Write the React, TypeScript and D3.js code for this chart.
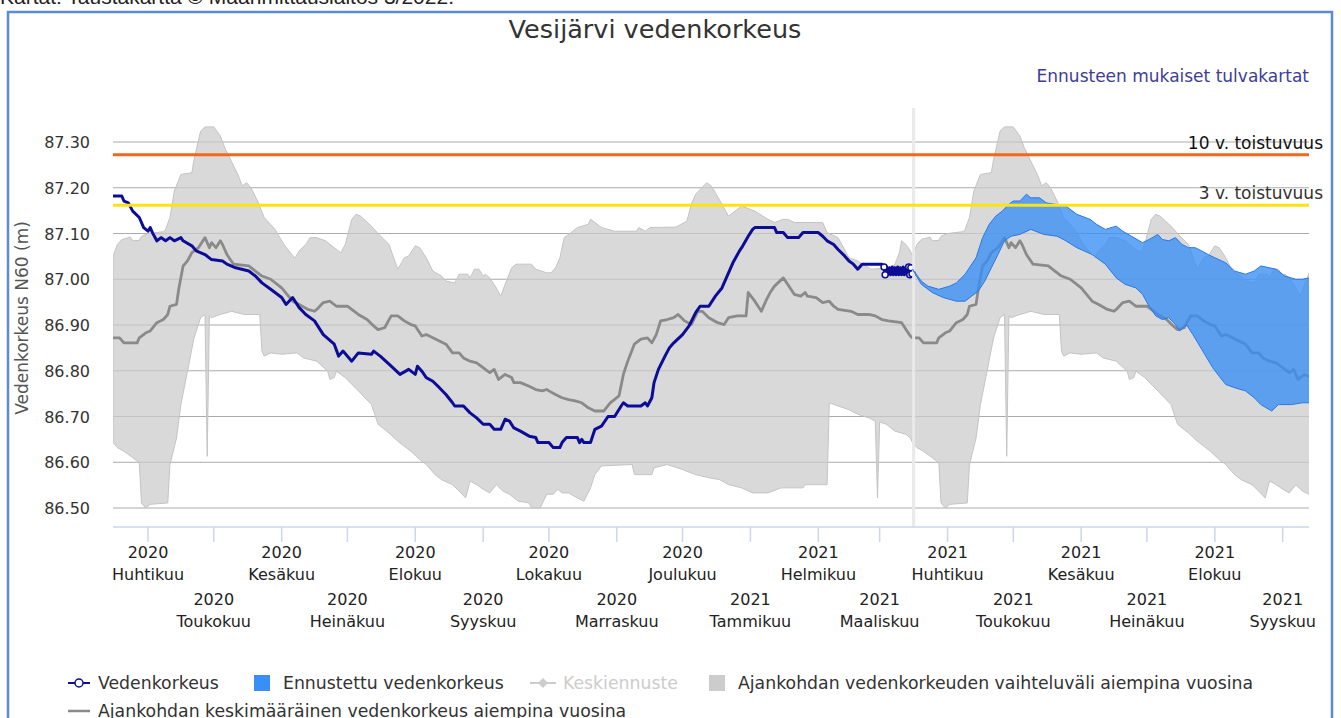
import * as d3 from "d3";

type Pt = [string, number];

// historical range (min / max) per day, one year from 16.3.
const bandUpper: Pt[] = [
  ["2020-03-16", 87.051], ["2020-03-18", 87.076], ["2020-03-20", 87.087], ["2020-03-24", 87.092], ["2020-03-25", 87.084],
  ["2020-03-28", 87.085], ["2020-03-29", 87.094], ["2020-04-01", 87.1], ["2020-04-08", 87.104], ["2020-04-09", 87.109],
  ["2020-04-11", 87.135], ["2020-04-13", 87.193], ["2020-04-16", 87.229], ["2020-04-21", 87.233], ["2020-04-22", 87.262],
  ["2020-04-25", 87.324], ["2020-04-27", 87.333], ["2020-05-01", 87.333], ["2020-05-04", 87.313], ["2020-05-06", 87.288],
  ["2020-05-09", 87.258], ["2020-05-12", 87.229], ["2020-05-14", 87.204], ["2020-05-16", 87.211], ["2020-05-18", 87.2],
  ["2020-05-21", 87.171], ["2020-05-24", 87.135], ["2020-05-29", 87.109], ["2020-06-02", 87.076], ["2020-06-07", 87.046],
  ["2020-06-09", 87.062], ["2020-06-12", 87.076], ["2020-06-14", 87.091], ["2020-06-17", 87.091], ["2020-06-21", 87.084],
  ["2020-06-25", 87.069], ["2020-06-28", 87.058], ["2020-06-30", 87.076], ["2020-07-03", 87.131], ["2020-07-05", 87.142],
  ["2020-07-07", 87.138], ["2020-07-12", 87.116], ["2020-07-15", 87.1], ["2020-07-20", 87.076], ["2020-07-24", 87.022],
  ["2020-07-27", 87.047], ["2020-07-29", 87.051], ["2020-08-01", 87.073], ["2020-08-03", 87.069], ["2020-08-06", 87.047],
  ["2020-08-09", 87.018], ["2020-08-13", 87.007], ["2020-08-15", 86.996], ["2020-08-19", 86.992], ["2020-08-21", 87.011],
  ["2020-08-25", 87.011], ["2020-08-26", 87.003], ["2020-08-28", 87.022], ["2020-08-30", 87.022], ["2020-09-01", 87.007],
  ["2020-09-02", 87.011], ["2020-09-04", 87.003], ["2020-09-07", 86.981], ["2020-09-09", 86.963], ["2020-09-11", 86.989],
  ["2020-09-14", 87.025], ["2020-09-16", 87.033], ["2020-09-23", 87.033], ["2020-09-25", 87.022], ["2020-09-30", 87.014],
  ["2020-10-02", 87.014], ["2020-10-04", 87.025], ["2020-10-06", 87.047], ["2020-10-08", 87.091], ["2020-10-10", 87.098],
  ["2020-10-14", 87.113], ["2020-10-19", 87.12], ["2020-10-20", 87.131], ["2020-10-22", 87.124], ["2020-10-25", 87.113],
  ["2020-10-31", 87.105], ["2020-11-10", 87.105], ["2020-11-11", 87.113], ["2020-11-14", 87.105], ["2020-11-16", 87.113],
  ["2020-11-28", 87.114], ["2020-12-03", 87.127], ["2020-12-05", 87.164], ["2020-12-07", 87.186], ["2020-12-12", 87.211],
  ["2020-12-14", 87.204], ["2020-12-16", 87.189], ["2020-12-19", 87.164], ["2020-12-22", 87.138], ["2020-12-25", 87.149],
  ["2020-12-28", 87.16], ["2021-01-03", 87.149], ["2021-01-09", 87.131], ["2021-01-12", 87.124], ["2021-01-16", 87.131],
  ["2021-01-18", 87.131], ["2021-01-21", 87.124], ["2021-02-03", 87.124], ["2021-02-05", 87.102], ["2021-02-10", 87.091],
  ["2021-02-15", 87.047], ["2021-02-19", 87.04], ["2021-02-25", 87.022], ["2021-03-06", 87.025], ["2021-03-08", 87.033],
  ["2021-03-10", 87.058], ["2021-03-11", 87.084], ["2021-03-13", 87.076], ["2021-03-15", 87.062],
];

const bandLower: Pt[] = [
  ["2020-03-16", 86.643], ["2020-03-18", 86.632], ["2020-03-21", 86.624], ["2020-03-25", 86.61], ["2020-03-28", 86.599],
  ["2020-03-29", 86.511], ["2020-03-31", 86.5], ["2020-04-02", 86.508], ["2020-04-10", 86.511], ["2020-04-11", 86.595],
  ["2020-04-14", 86.653], ["2020-04-16", 86.726], ["2020-04-19", 86.799], ["2020-04-22", 86.872], ["2020-04-25", 86.916],
  ["2020-04-27", 86.923], ["2020-04-28", 86.613], ["2020-04-29", 86.92], ["2020-04-30", 86.916], ["2020-05-04", 86.923],
  ["2020-05-07", 86.927], ["2020-05-09", 86.93], ["2020-05-15", 86.923], ["2020-05-22", 86.923], ["2020-05-23", 86.843],
  ["2020-05-24", 86.832], ["2020-05-27", 86.839], ["2020-06-01", 86.836], ["2020-06-08", 86.839], ["2020-06-11", 86.828],
  ["2020-06-17", 86.821], ["2020-06-22", 86.799], ["2020-06-23", 86.781], ["2020-06-25", 86.785], ["2020-06-26", 86.799],
  ["2020-06-30", 86.785], ["2020-07-06", 86.756], ["2020-07-12", 86.726], ["2020-07-15", 86.683], ["2020-07-20", 86.664],
  ["2020-07-24", 86.646], ["2020-07-30", 86.624], ["2020-08-03", 86.606], ["2020-08-06", 86.595], ["2020-08-10", 86.573],
  ["2020-08-13", 86.562], ["2020-08-18", 86.551], ["2020-08-21", 86.537], ["2020-08-24", 86.522], ["2020-08-26", 86.559],
  ["2020-08-29", 86.551], ["2020-09-01", 86.541], ["2020-09-04", 86.533], ["2020-09-07", 86.551], ["2020-09-10", 86.537],
  ["2020-09-13", 86.53], ["2020-09-17", 86.515], ["2020-09-22", 86.511], ["2020-09-23", 86.5], ["2020-09-27", 86.5],
  ["2020-09-30", 86.53], ["2020-10-03", 86.53], ["2020-10-05", 86.541], ["2020-10-07", 86.533], ["2020-10-10", 86.533],
  ["2020-10-14", 86.522], ["2020-10-17", 86.515], ["2020-10-20", 86.544], ["2020-10-22", 86.573], ["2020-10-25", 86.592],
  ["2020-11-08", 86.595], ["2020-11-09", 86.573], ["2020-11-17", 86.573], ["2020-11-18", 86.588], ["2020-11-24", 86.595],
  ["2020-12-01", 86.584], ["2020-12-07", 86.573], ["2020-12-13", 86.566], ["2020-12-18", 86.562], ["2020-12-22", 86.551],
  ["2020-12-28", 86.544], ["2021-01-02", 86.533], ["2021-01-09", 86.533], ["2021-01-15", 86.544], ["2021-01-25", 86.544],
  ["2021-01-26", 86.551], ["2021-02-05", 86.551], ["2021-02-06", 86.73], ["2021-02-10", 86.723], ["2021-02-15", 86.715],
  ["2021-02-19", 86.705], ["2021-02-24", 86.697], ["2021-02-27", 86.69], ["2021-02-28", 86.522], ["2021-03-01", 86.688],
  ["2021-03-04", 86.683], ["2021-03-08", 86.668], ["2021-03-13", 86.661], ["2021-03-15", 86.653],
];

// mean of earlier years
const meanLevel: Pt[] = [
  ["2020-03-16", 86.872], ["2020-03-19", 86.872], ["2020-03-21", 86.861], ["2020-03-27", 86.861], ["2020-03-28", 86.872],
  ["2020-03-31", 86.883], ["2020-04-02", 86.887], ["2020-04-05", 86.905], ["2020-04-08", 86.912], ["2020-04-10", 86.923],
  ["2020-04-11", 86.941], ["2020-04-14", 86.945], ["2020-04-15", 86.978], ["2020-04-17", 87.029], ["2020-04-19", 87.04],
  ["2020-04-21", 87.058], ["2020-04-24", 87.069], ["2020-04-27", 87.091], ["2020-04-29", 87.069], ["2020-04-30", 87.08],
  ["2020-05-02", 87.069], ["2020-05-04", 87.084], ["2020-05-05", 87.076], ["2020-05-07", 87.054], ["2020-05-09", 87.04],
  ["2020-05-10", 87.033], ["2020-05-17", 87.029], ["2020-05-20", 87.018], ["2020-05-23", 87.007], ["2020-05-27", 87.0],
  ["2020-06-01", 86.981], ["2020-06-06", 86.952], ["2020-06-09", 86.945], ["2020-06-13", 86.934], ["2020-06-16", 86.93],
  ["2020-06-17", 86.934], ["2020-06-20", 86.949], ["2020-06-23", 86.952], ["2020-06-26", 86.941], ["2020-07-01", 86.941],
  ["2020-07-06", 86.923], ["2020-07-10", 86.912], ["2020-07-13", 86.898], ["2020-07-15", 86.89], ["2020-07-18", 86.894],
  ["2020-07-21", 86.92], ["2020-07-24", 86.92], ["2020-07-27", 86.909], ["2020-07-30", 86.901], ["2020-08-01", 86.898],
  ["2020-08-04", 86.876], ["2020-08-06", 86.879], ["2020-08-09", 86.872], ["2020-08-12", 86.865], ["2020-08-15", 86.858],
  ["2020-08-18", 86.839], ["2020-08-21", 86.839], ["2020-08-23", 86.828], ["2020-08-26", 86.821], ["2020-08-29", 86.817],
  ["2020-08-31", 86.81], ["2020-09-04", 86.796], ["2020-09-06", 86.803], ["2020-09-08", 86.781], ["2020-09-11", 86.792],
  ["2020-09-14", 86.785], ["2020-09-15", 86.774], ["2020-09-18", 86.774], ["2020-09-22", 86.766], ["2020-09-25", 86.759],
  ["2020-09-28", 86.756], ["2020-09-30", 86.759], ["2020-10-01", 86.756], ["2020-10-04", 86.748], ["2020-10-07", 86.741],
  ["2020-10-10", 86.737], ["2020-10-13", 86.734], ["2020-10-16", 86.73], ["2020-10-19", 86.719], ["2020-10-22", 86.712],
  ["2020-10-26", 86.712], ["2020-10-29", 86.73], ["2020-11-02", 86.745], ["2020-11-04", 86.792], ["2020-11-06", 86.821],
  ["2020-11-09", 86.858], ["2020-11-12", 86.869], ["2020-11-15", 86.872], ["2020-11-17", 86.861], ["2020-11-19", 86.879],
  ["2020-11-21", 86.909], ["2020-11-24", 86.912], ["2020-11-27", 86.916], ["2020-11-29", 86.923], ["2020-12-02", 86.909],
  ["2020-12-05", 86.901], ["2020-12-08", 86.93], ["2020-12-10", 86.93], ["2020-12-13", 86.916], ["2020-12-17", 86.905],
  ["2020-12-20", 86.901], ["2020-12-22", 86.916], ["2020-12-26", 86.92], ["2020-12-30", 86.92], ["2020-12-31", 86.971],
  ["2021-01-03", 86.952], ["2021-01-06", 86.93], ["2021-01-08", 86.952], ["2021-01-10", 86.971], ["2021-01-12", 86.985],
  ["2021-01-16", 87.003], ["2021-01-18", 86.989], ["2021-01-21", 86.967], ["2021-01-24", 86.963], ["2021-01-26", 86.971],
  ["2021-01-27", 86.963], ["2021-01-31", 86.96], ["2021-02-03", 86.949], ["2021-02-06", 86.952], ["2021-02-08", 86.941],
  ["2021-02-10", 86.934], ["2021-02-16", 86.93], ["2021-02-19", 86.923], ["2021-02-24", 86.923], ["2021-02-27", 86.92],
  ["2021-03-02", 86.912], ["2021-03-05", 86.909], ["2021-03-11", 86.905], ["2021-03-14", 86.883], ["2021-03-15", 86.876],
];

// observed water level
const observed: Pt[] = [
  ["2020-03-16", 87.182], ["2020-03-20", 87.182], ["2020-03-21", 87.171], ["2020-03-23", 87.167], ["2020-03-25", 87.149],
  ["2020-03-28", 87.135], ["2020-03-30", 87.113], ["2020-04-01", 87.105], ["2020-04-02", 87.113], ["2020-04-03", 87.102],
  ["2020-04-05", 87.084], ["2020-04-07", 87.091], ["2020-04-09", 87.084], ["2020-04-11", 87.091], ["2020-04-13", 87.084],
  ["2020-04-16", 87.091], ["2020-04-17", 87.084], ["2020-04-21", 87.073], ["2020-04-23", 87.062], ["2020-04-27", 87.054],
  ["2020-04-30", 87.043], ["2020-05-05", 87.04], ["2020-05-07", 87.033], ["2020-05-11", 87.025], ["2020-05-17", 87.018],
  ["2020-05-20", 87.007], ["2020-05-23", 86.992], ["2020-05-27", 86.978], ["2020-06-01", 86.96], ["2020-06-03", 86.945],
  ["2020-06-06", 86.96], ["2020-06-09", 86.938], ["2020-06-12", 86.923], ["2020-06-16", 86.909], ["2020-06-20", 86.879],
  ["2020-06-25", 86.858], ["2020-06-27", 86.832], ["2020-06-29", 86.843], ["2020-07-03", 86.821], ["2020-07-06", 86.839],
  ["2020-07-12", 86.836], ["2020-07-13", 86.843], ["2020-07-16", 86.832], ["2020-07-21", 86.81], ["2020-07-25", 86.792],
  ["2020-07-29", 86.803], ["2020-08-01", 86.792], ["2020-08-02", 86.81], ["2020-08-04", 86.799], ["2020-08-06", 86.785],
  ["2020-08-09", 86.777], ["2020-08-12", 86.763], ["2020-08-15", 86.748], ["2020-08-18", 86.73], ["2020-08-19", 86.723],
  ["2020-08-23", 86.723], ["2020-08-26", 86.708], ["2020-08-29", 86.697], ["2020-09-01", 86.683], ["2020-09-04", 86.683],
  ["2020-09-06", 86.672], ["2020-09-09", 86.672], ["2020-09-11", 86.694], ["2020-09-13", 86.69], ["2020-09-15", 86.675],
  ["2020-09-18", 86.668], ["2020-09-22", 86.657], ["2020-09-25", 86.654], ["2020-09-26", 86.643], ["2020-10-01", 86.643],
  ["2020-10-03", 86.632], ["2020-10-06", 86.632], ["2020-10-07", 86.643], ["2020-10-09", 86.654], ["2020-10-14", 86.654],
  ["2020-10-15", 86.643], ["2020-10-16", 86.65], ["2020-10-17", 86.643], ["2020-10-20", 86.643], ["2020-10-22", 86.672],
  ["2020-10-25", 86.679], ["2020-10-28", 86.7], ["2020-10-31", 86.7], ["2020-11-03", 86.723], ["2020-11-04", 86.73],
  ["2020-11-06", 86.723], ["2020-11-12", 86.723], ["2020-11-14", 86.73], ["2020-11-15", 86.723], ["2020-11-17", 86.741],
  ["2020-11-18", 86.774], ["2020-11-20", 86.803], ["2020-11-23", 86.832], ["2020-11-25", 86.85], ["2020-11-27", 86.861],
  ["2020-12-01", 86.879], ["2020-12-04", 86.898], ["2020-12-07", 86.927], ["2020-12-09", 86.941], ["2020-12-13", 86.941],
  ["2020-12-16", 86.963], ["2020-12-19", 86.981], ["2020-12-21", 87.003], ["2020-12-24", 87.036], ["2020-12-27", 87.062],
  ["2020-12-28", 87.069], ["2020-12-31", 87.094], ["2021-01-02", 87.109], ["2021-01-03", 87.113], ["2021-01-12", 87.113],
  ["2021-01-13", 87.102], ["2021-01-16", 87.102], ["2021-01-18", 87.091], ["2021-01-23", 87.091], ["2021-01-25", 87.102],
  ["2021-02-01", 87.102], ["2021-02-03", 87.094], ["2021-02-05", 87.084], ["2021-02-08", 87.076], ["2021-02-10", 87.065],
  ["2021-02-13", 87.051], ["2021-02-15", 87.04], ["2021-02-17", 87.033], ["2021-02-19", 87.022], ["2021-02-21", 87.033],
  ["2021-03-02", 87.033],
];

// last two weeks, denser readings
const observedRecent: Pt[] = [
  ["2021-03-03T00:00Z", 87.027], ["2021-03-03T12:00Z", 87.01], ["2021-03-04T06:00Z", 87.027], ["2021-03-04T18:00Z", 87.01],
  ["2021-03-05T12:00Z", 87.025], ["2021-03-06T00:00Z", 87.01], ["2021-03-06T18:00Z", 87.027], ["2021-03-07T06:00Z", 87.01],
  ["2021-03-08T00:00Z", 87.025], ["2021-03-08T12:00Z", 87.01], ["2021-03-09T06:00Z", 87.027], ["2021-03-09T18:00Z", 87.01],
  ["2021-03-10T12:00Z", 87.025], ["2021-03-11T00:00Z", 87.01], ["2021-03-11T18:00Z", 87.027], ["2021-03-12T06:00Z", 87.01],
  ["2021-03-13T00:00Z", 87.025], ["2021-03-13T12:00Z", 87.01], ["2021-03-14T06:00Z", 87.027], ["2021-03-14T18:00Z", 87.01],
  ["2021-03-15T06:00Z", 87.025], ["2021-03-15T18:00Z", 87.012],
];
const recentMarkers = [0, 1, 18, 19, 20, 21];

// forecast range
const forecastUpper: Pt[] = [
  ["2021-03-16", 87.022], ["2021-03-20", 86.996], ["2021-03-23", 86.985], ["2021-03-28", 86.978], ["2021-04-02", 86.985],
  ["2021-04-05", 86.992], ["2021-04-09", 87.011], ["2021-04-14", 87.047], ["2021-04-17", 87.091], ["2021-04-20", 87.12],
  ["2021-04-23", 87.138], ["2021-04-26", 87.149], ["2021-04-29", 87.164], ["2021-05-01", 87.171], ["2021-05-04", 87.171],
  ["2021-05-07", 87.186], ["2021-05-09", 87.178], ["2021-05-13", 87.178], ["2021-05-16", 87.167], ["2021-05-25", 87.16],
  ["2021-05-30", 87.142], ["2021-06-05", 87.131], ["2021-06-08", 87.12], ["2021-06-12", 87.109], ["2021-06-17", 87.116],
  ["2021-06-20", 87.105], ["2021-06-24", 87.094], ["2021-06-29", 87.08], ["2021-07-02", 87.087], ["2021-07-06", 87.098],
  ["2021-07-08", 87.087], ["2021-07-11", 87.084], ["2021-07-14", 87.091], ["2021-07-17", 87.076], ["2021-07-20", 87.069],
  ["2021-07-23", 87.069], ["2021-07-26", 87.062], ["2021-07-29", 87.054], ["2021-08-01", 87.047], ["2021-08-06", 87.036],
  ["2021-08-10", 87.018], ["2021-08-15", 87.011], ["2021-08-19", 87.018], ["2021-08-22", 87.029], ["2021-08-26", 87.025],
  ["2021-08-29", 87.022], ["2021-09-02", 87.007], ["2021-09-07", 87.0], ["2021-09-10", 87.0], ["2021-09-13", 87.003],
];

const forecastLower: Pt[] = [
  ["2021-03-16", 87.022], ["2021-03-20", 86.989], ["2021-03-25", 86.971], ["2021-03-30", 86.96], ["2021-04-05", 86.952],
  ["2021-04-09", 86.952], ["2021-04-12", 86.963], ["2021-04-15", 86.974], ["2021-04-18", 86.996], ["2021-04-21", 87.025],
  ["2021-04-24", 87.054], ["2021-04-27", 87.084], ["2021-04-30", 87.094], ["2021-05-04", 87.098], ["2021-05-09", 87.109],
  ["2021-05-15", 87.098], ["2021-05-21", 87.094], ["2021-05-25", 87.084], ["2021-05-30", 87.069], ["2021-06-06", 87.054],
  ["2021-06-12", 87.033], ["2021-06-17", 87.003], ["2021-06-21", 86.989], ["2021-06-26", 86.981], ["2021-06-29", 86.967],
  ["2021-07-02", 86.941], ["2021-07-05", 86.92], ["2021-07-08", 86.912], ["2021-07-11", 86.916], ["2021-07-14", 86.901],
  ["2021-07-16", 86.887], ["2021-07-19", 86.901], ["2021-07-22", 86.879], ["2021-07-26", 86.847], ["2021-07-31", 86.807],
  ["2021-08-03", 86.788], ["2021-08-06", 86.77], ["2021-08-10", 86.763], ["2021-08-15", 86.756], ["2021-08-19", 86.741],
  ["2021-08-22", 86.726], ["2021-08-27", 86.712], ["2021-08-30", 86.726], ["2021-09-05", 86.726], ["2021-09-10", 86.73],
  ["2021-09-13", 86.73],
];

const floodLabels = ["10 v. toistuvuus", "3 v. toistuvuus"];
const floodValues = [87.272, 87.162];
const floodColors = ["#f5661a", "#fbe40f"];

const yTickValues = [86.5, 86.6, 86.7, 86.8, 86.9, 87.0, 87.1, 87.2, 87.3];
const monthNames = [
  "Tammikuu", "Helmikuu", "Maaliskuu", "Huhtikuu", "Toukokuu", "Kesäkuu",
  "Heinäkuu", "Elokuu", "Syyskuu", "Lokakuu", "Marraskuu", "Joulukuu",
];

const START = "2020-03-16";
const END = "2021-09-13";
const NOW = "2021-03-16T12:00Z";

const FONT = "DejaVu Sans";
const W = 1341;
const H = 718;
const plot = { left: 113, right: 1309, top: 108, bottom: 527 };

const parse = (s: string) => d3.isoParse(s) as Date;
const toDates = (pts: Pt[]) => pts.map(([d, v]) => [parse(d), v] as [Date, number]);
// the statistics are per day of year, so they repeat on the next year
const withNextYear = (pts: Pt[]) => {
  const a = toDates(pts);
  return a.concat(a.map(([d, v]) => [d3.utcDay.offset(d, 365), v] as [Date, number]));
};

export default function App() {
  const x = d3.scaleUtc().domain([parse(START), parse(END)]).range([plot.left, plot.right]);
  const y = d3.scaleLinear().domain([86.5, 87.3]).range([508, 142]);

  const line = d3
    .line<[Date, number]>()
    .x((d) => x(d[0]))
    .y((d) => y(d[1]));

  const rangePath = (upper: [Date, number][], lower: [Date, number][]) =>
    line([...upper, ...lower.slice().reverse()]) + "Z";

  const bandPath = rangePath(withNextYear(bandUpper), withNextYear(bandLower));
  const meanPath = line(withNextYear(meanLevel));
  const obsPts = toDates(observed).concat(toDates(observedRecent));
  const obsPath = line(obsPts);
  const recent = toDates(observedRecent);
  const fcUp = toDates(forecastUpper);
  const fcLo = toDates(forecastLower);

  const ticks = d3.utcMonth.range(parse("2020-04-01"), parse(END));
  const nowX = x(parse(NOW));

  return (
    <div style={{ position: "absolute", left: 0, top: 0 }}>
      <svg width={W} height={H} style={{ display: "block", background: "#fff" }} fontFamily={FONT}>
        <text x={0} y={4} fontFamily="Liberation Sans" fontSize={21} fill="#222">
          Kartat: Taustakartta © Maanmittauslaitos 3/2022.
        </text>
        <rect x={8} y={12} width={1324} height={720} fill="#fff" stroke="#5b8bd0" strokeWidth={2.5} />

        <text x={655} y={38} textAnchor="middle" fontSize={25.5} fill="#333">
          Vesijärvi vedenkorkeus
        </text>
        <text x={plot.right} y={82} textAnchor="end" fontSize={17} fill="#3d3d99">
          Ennusteen mukaiset tulvakartat
        </text>

        <defs>
          <clipPath id="plotClip">
            <rect x={plot.left} y={plot.top} width={plot.right - plot.left} height={plot.bottom - plot.top} />
          </clipPath>
        </defs>

        {yTickValues.map((v) => (
          <g key={v}>
            <line x1={plot.left} x2={plot.right} y1={y(v)} y2={y(v)} stroke="#ababab" strokeWidth={1} />
            <text x={90} y={y(v) + 6} textAnchor="end" fontSize={16} fill="#333">
              {v.toFixed(2)}
            </text>
          </g>
        ))}

        <g clipPath="url(#plotClip)">
          <path d={bandPath} fill="#cacaca" fillOpacity={0.72} stroke="#c4c4c4" strokeWidth={1} />
          <path d={meanPath ?? ""} fill="none" stroke="#8a8a8a" strokeWidth={2.8} strokeLinejoin="round" />
          <path d={obsPath ?? ""} fill="none" stroke="#0c0c96" strokeWidth={3} strokeLinejoin="round" />
          {recentMarkers.map((i) => (
            <circle key={i} cx={x(recent[i][0])} cy={y(recent[i][1])} r={3} fill="#fff" stroke="#0c0c96" strokeWidth={1.5} />
          ))}
          <line x1={nowX} x2={nowX} y1={plot.top} y2={plot.bottom + 6} stroke="#e9e9e9" strokeWidth={3} />
          <path d={rangePath(fcUp, fcLo)} fill="#3a8ef5" fillOpacity={0.78} stroke="none" />
          <path d={line(fcUp) ?? ""} fill="none" stroke="#2a78e4" strokeWidth={1} />
          <path d={line(fcLo) ?? ""} fill="none" stroke="#2a78e4" strokeWidth={1} />
        </g>

        {floodValues.map((v, i) => (
          <g key={i}>
            <line x1={plot.left} x2={plot.right} y1={y(v)} y2={y(v)} stroke={floodColors[i]} strokeWidth={3} />
            <text x={1323} y={y(v) - 6} textAnchor="end" fontSize={17} fill={i === 0 ? "#111" : "#333"}>
              {floodLabels[i]}
            </text>
          </g>
        ))}

        {/* x axis */}
        <line x1={plot.left} x2={plot.right} y1={plot.bottom} y2={plot.bottom} stroke="#ccd6eb" strokeWidth={1.5} />
        {ticks.map((t, i) => {
          const tx = x(t);
          const row = i % 2 === 0 ? 0 : 47;
          return (
            <g key={i}>
              <line x1={tx} x2={tx} y1={plot.bottom} y2={plot.bottom + 15} stroke="#ccd6eb" strokeWidth={1.5} />
              <text x={tx} y={558 + row} textAnchor="middle" fontSize={16} fill="#222">
                {t.getUTCFullYear()}
              </text>
              <text x={tx} y={580 + row} textAnchor="middle" fontSize={16} fill="#222">
                {monthNames[t.getUTCMonth()]}
              </text>
            </g>
          );
        })}

        <text transform="translate(28,318) rotate(-90)" textAnchor="middle" fontSize={17} fill="#555">
          Vedenkorkeus N60 (m)
        </text>

        {/* legend */}
        <g fontSize={17.3}>
          <line x1={68} x2={90} y1={683} y2={683} stroke="#0c0c96" strokeWidth={2} />
          <circle cx={79} cy={683} r={4} fill="#fff" stroke="#0c0c96" strokeWidth={1.5} />
          <text x={98} y={689} fill="#333">Vedenkorkeus</text>

          <rect x={254} y={675} width={16} height={16} fill="#3a8ff6" />
          <text x={283} y={689} fill="#333">Ennustettu vedenkorkeus</text>

          <line x1={530} x2={556} y1={683} y2={683} stroke="#cccccc" strokeWidth={2} />
          <path d="M543,678 L548,683 L543,688 L538,683 Z" fill="#cccccc" />
          <text x={563} y={689} fill="#cccccc">Keskiennuste</text>

          <rect x={709} y={675} width={16} height={16} fill="#cccccc" />
          <text x={738} y={689} fill="#333">Ajankohdan vedenkorkeuden vaihteluväli aiempina vuosina</text>

          <line x1={68} x2={90} y1={711} y2={711} stroke="#8a8a8a" strokeWidth={2.5} />
          <text x={98} y={717} fill="#333">Ajankohdan keskimääräinen vedenkorkeus aiempina vuosina</text>
        </g>
      </svg>
    </div>
  );
}
